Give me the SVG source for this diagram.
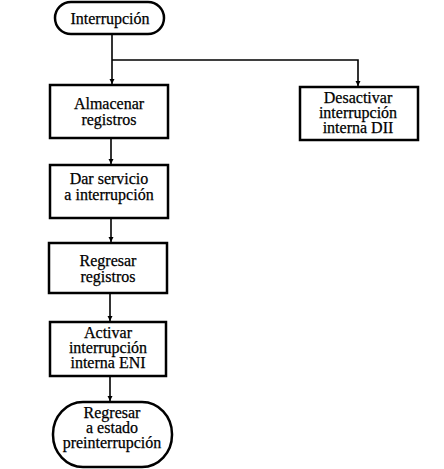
<svg xmlns="http://www.w3.org/2000/svg" width="444" height="469" viewBox="0 0 444 469">
<style>
.box{fill:#fff;stroke:#000;stroke-width:2.5}
.t{font-family:"Liberation Serif","Times New Roman",serif;font-size:16px;text-anchor:middle;fill:#000;stroke:#000;stroke-width:0.25}
.c{fill:none;stroke:#000;stroke-width:1.6}
</style>
<defs>
<marker id="ah" viewBox="0 0 10 10" refX="10" refY="5" markerWidth="5" markerHeight="6" orient="auto" markerUnits="userSpaceOnUse">
<path d="M0,0 L10,5 L0,10 z" fill="#000"/>
</marker>
</defs>
<rect width="444" height="469" fill="#fff"/>
<g id="connectors">
<path class="c" d="M112,34 V84" marker-end="url(#ah)"/>
<path class="c" d="M112,60 H358 V86" marker-end="url(#ah)"/>
<path class="c" d="M111,138 V164" marker-end="url(#ah)"/>
<path class="c" d="M111,218 V242" marker-end="url(#ah)"/>
<path class="c" d="M110,293 V321" marker-end="url(#ah)"/>
<path class="c" d="M110,376 V401" marker-end="url(#ah)"/>
</g>
<g id="n_interrupcion">
<rect class="box" x="55" y="2" width="109" height="32" rx="16"/>
<text class="t" x="110" y="24">Interrupción</text>
</g>
<g id="n_almacenar">
<rect class="box" x="50" y="85" width="118" height="53"/>
<text class="t" x="109" y="109">Almacenar</text>
<text class="t" x="109" y="125">registros</text>
</g>
<g id="n_desactivar">
<rect class="box" x="300" y="87" width="118" height="53"/>
<text class="t" x="358" y="103">Desactivar</text>
<text class="t" x="358" y="118">interrupción</text>
<text class="t" x="358" y="133">interna DII</text>
</g>
<g id="n_servicio">
<rect class="box" x="50" y="165" width="118" height="53"/>
<text class="t" x="109" y="184">Dar servicio</text>
<text class="t" x="109" y="200">a interrupción</text>
</g>
<g id="n_regresar">
<rect class="box" x="49" y="243" width="118" height="50"/>
<text class="t" x="108" y="266">Regresar</text>
<text class="t" x="108" y="282">registros</text>
</g>
<g id="n_activar">
<rect class="box" x="50" y="322" width="116" height="54"/>
<text class="t" x="108" y="338">Activar</text>
<text class="t" x="108" y="353">interrupción</text>
<text class="t" x="108" y="368">interna ENI</text>
</g>
<g id="n_preinterrupcion">
<rect class="box" x="53" y="402" width="119" height="65" rx="30" ry="32"/>
<text class="t" x="112" y="418">Regresar</text>
<text class="t" x="112" y="433">a estado</text>
<text class="t" x="112" y="448">preinterrupción</text>
</g>
</svg>
